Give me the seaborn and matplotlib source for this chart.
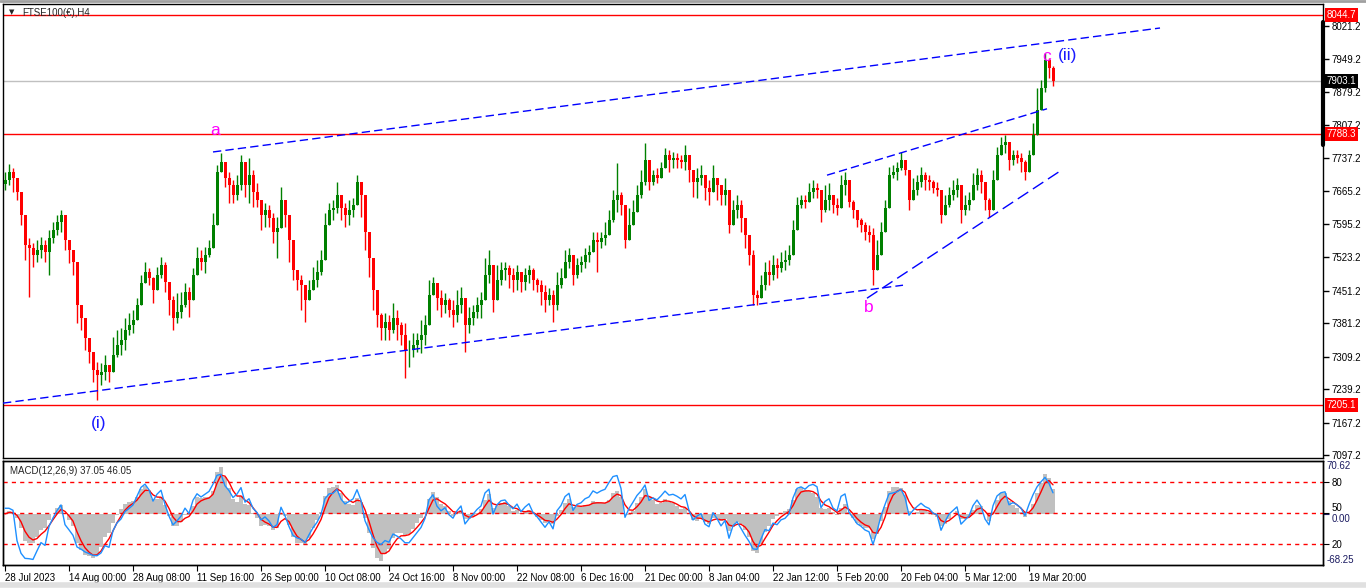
import numpy as np
import pandas as pd
import matplotlib
matplotlib.use("Agg")
import matplotlib.pyplot as plt
import matplotlib.transforms as mtransforms
import seaborn as sns

sns.set_style("white")
plt.rcParams['font.family'] = ['Liberation Sans', 'DejaVu Sans']

# ---------------- data ----------------
symbol_title = "FTSE100(€),H4"
first_open = 7680

close = [
    7690, 7707, 7694, 7664, 7614, 7550, 7543, 7528, 7539, 7550,
    7535, 7565, 7582, 7599, 7614, 7560, 7539, 7513, 7420, 7392,
    7349, 7319, 7280, 7270, 7276, 7291, 7276, 7313, 7334, 7345,
    7367, 7377, 7388, 7420, 7468, 7491, 7479, 7453, 7485, 7507,
    7470, 7431, 7392, 7405, 7420, 7448, 7431, 7485, 7522, 7513,
    7528, 7543, 7593, 7707, 7728, 7694, 7679, 7657, 7679, 7728,
    7679, 7700, 7664, 7647, 7614, 7625, 7608, 7578, 7586, 7647,
    7614, 7560, 7496, 7474, 7463, 7431, 7453, 7474, 7491, 7517,
    7593, 7625, 7629, 7657, 7629, 7614, 7625, 7636, 7685, 7657,
    7578, 7522, 7453, 7399, 7371, 7384, 7367, 7392, 7377, 7356,
    7323, 7323, 7334, 7345, 7356, 7377, 7442, 7468, 7435, 7420,
    7431, 7410, 7399, 7420, 7435, 7377, 7392, 7405, 7420, 7431,
    7485, 7507, 7431, 7474, 7496, 7500, 7485, 7474, 7491, 7470,
    7485, 7496, 7474, 7463, 7448, 7431, 7442, 7420, 7463, 7479,
    7513, 7528, 7485, 7507, 7513, 7528, 7535, 7560, 7556, 7565,
    7571, 7603, 7647, 7657, 7636, 7560, 7593, 7621, 7657, 7685,
    7733, 7685, 7700, 7694, 7715, 7743, 7733, 7737, 7733, 7728,
    7743, 7711, 7685, 7694, 7700, 7672, 7664, 7694, 7679, 7657,
    7668, 7593, 7625, 7636, 7608, 7571, 7528, 7442, 7435, 7463,
    7491, 7485, 7507, 7500, 7513, 7517, 7528, 7582, 7636, 7647,
    7642, 7664, 7672, 7668, 7625, 7647, 7657, 7636, 7629, 7679,
    7690, 7642, 7625, 7603, 7593, 7578, 7571, 7496, 7528, 7578,
    7629, 7700, 7707, 7715, 7733, 7711, 7647, 7668, 7685, 7700,
    7690, 7685, 7672, 7668, 7614, 7636, 7657, 7668, 7679, 7625,
    7636, 7647, 7679, 7700, 7685, 7647, 7625, 7690, 7743, 7765,
    7771, 7733, 7743, 7737, 7728, 7707, 7743, 7787, 7840, 7888,
    7948, 7931, 7903,
]

high = [
    7707, 7724, 7715, 7694, 7657, 7614, 7565, 7554, 7560, 7567,
    7560, 7582, 7599, 7614, 7625, 7586, 7554, 7528, 7507, 7410,
    7371, 7341, 7313, 7298, 7295, 7313, 7291, 7351, 7367, 7371,
    7392, 7403, 7410, 7435, 7485, 7513, 7500, 7481, 7502, 7524,
    7513, 7453, 7440, 7446, 7448, 7468, 7459, 7500, 7545, 7539,
    7545, 7560, 7619, 7722, 7748, 7726, 7707, 7690, 7700, 7743,
    7711, 7737, 7711, 7683, 7647, 7640, 7636, 7619, 7610, 7675,
    7636, 7588, 7522, 7496, 7485, 7453, 7474, 7502, 7517, 7539,
    7619, 7640, 7647, 7685, 7653, 7640, 7647, 7651, 7700, 7683,
    7603, 7545, 7489, 7431, 7403, 7403, 7399, 7425, 7410, 7384,
    7382, 7345, 7360, 7360, 7388, 7399, 7474, 7481, 7463, 7453,
    7446, 7435, 7431, 7453, 7459, 7431, 7416, 7420, 7438, 7448,
    7522, 7539, 7491, 7507, 7513, 7513, 7507, 7500, 7507, 7491,
    7500, 7507, 7500, 7479, 7474, 7463, 7457, 7453, 7491, 7500,
    7539, 7543, 7513, 7522, 7526, 7543, 7550, 7578, 7578, 7578,
    7599, 7625, 7668, 7726, 7664, 7614, 7629, 7647, 7679, 7711,
    7769, 7711, 7711, 7715, 7728, 7759, 7754, 7750, 7748, 7743,
    7765, 7733, 7707, 7715, 7722, 7690, 7690, 7722, 7694, 7679,
    7694, 7647, 7647, 7657, 7647, 7599, 7560, 7539, 7453, 7485,
    7513, 7517, 7528, 7522, 7535, 7539, 7550, 7603, 7653, 7657,
    7657, 7683, 7690, 7683, 7662, 7679, 7683, 7651, 7651, 7700,
    7707, 7657, 7647, 7621, 7608, 7599, 7593, 7586, 7560, 7599,
    7647, 7718, 7722, 7728, 7750, 7728, 7679, 7694, 7700, 7718,
    7707, 7700, 7690, 7685, 7647, 7657, 7675, 7690, 7694, 7657,
    7657, 7664, 7705, 7715, 7711, 7675, 7651, 7711, 7761, 7782,
    7787, 7754, 7754, 7754, 7748, 7733, 7754, 7812, 7888, 7905,
    7963, 7952, 7935,
]

low = [
    7668, 7679, 7664, 7647, 7593, 7517, 7438, 7502, 7513, 7522,
    7513, 7485, 7554, 7571, 7578, 7539, 7511, 7485, 7382, 7367,
    7323, 7295, 7255, 7216, 7248, 7259, 7255, 7291, 7308, 7313,
    7323, 7356, 7360, 7392, 7448, 7468, 7463, 7425, 7463, 7479,
    7448, 7399, 7367, 7382, 7392, 7416, 7395, 7463, 7489, 7496,
    7489, 7524, 7556, 7679, 7707, 7675, 7640, 7640, 7647, 7668,
    7653, 7640, 7631, 7631, 7582, 7588, 7588, 7554, 7522, 7625,
    7588, 7513, 7474, 7453, 7410, 7384, 7431, 7453, 7459, 7485,
    7539, 7599, 7603, 7619, 7603, 7588, 7593, 7610, 7636, 7610,
    7539, 7481, 7410, 7373, 7345, 7345, 7345, 7360, 7345, 7334,
    7263, 7287, 7308, 7319, 7317, 7334, 7388, 7446, 7410, 7395,
    7403, 7395, 7373, 7384, 7403, 7319, 7360, 7377, 7392, 7392,
    7453, 7468, 7405, 7448, 7463, 7474, 7457, 7448, 7453, 7448,
    7453, 7468, 7453, 7448, 7420, 7405, 7420, 7384, 7410, 7457,
    7485, 7500, 7463, 7479, 7491, 7500, 7513, 7543, 7491, 7543,
    7550, 7578, 7599, 7621, 7614, 7543, 7571, 7599, 7625, 7651,
    7679, 7668, 7679, 7683, 7700, 7722, 7707, 7715, 7715, 7715,
    7711, 7685, 7653, 7651, 7679, 7647, 7636, 7672, 7647, 7636,
    7636, 7575, 7599, 7608, 7578, 7543, 7507, 7420, 7420, 7438,
    7453, 7463, 7474, 7479, 7491, 7496, 7507, 7550, 7582, 7629,
    7629, 7647, 7651, 7651, 7599, 7621, 7625, 7619, 7614, 7647,
    7657, 7631, 7608, 7588, 7578, 7560, 7556, 7463, 7507, 7556,
    7593, 7664, 7694, 7690, 7711, 7700, 7625, 7647, 7657, 7675,
    7668, 7668, 7662, 7655, 7597, 7614, 7631, 7647, 7653, 7597,
    7614, 7625, 7647, 7668, 7662, 7625, 7610, 7662, 7718, 7743,
    7748, 7711, 7722, 7726, 7707, 7690, 7722, 7754, 7797, 7873,
    7879, 7909, 7892,
]

time_labels = ["28 Jul 2023", "14 Aug 00:00", "28 Aug 08:00", "11 Sep 16:00",
               "26 Sep 00:00", "10 Oct 08:00", "24 Oct 16:00", "8 Nov 00:00",
               "22 Nov 08:00", "6 Dec 16:00", "21 Dec 00:00", "8 Jan 04:00",
               "22 Jan 12:00", "5 Feb 20:00", "20 Feb 04:00", "5 Mar 12:00",
               "19 Mar 20:00"]
time_label_bars = [0, 16, 32, 48, 64, 80, 96, 112, 128, 144, 160, 176, 192,
                   208, 224, 240, 256]

price_ticks = [8021.2, 7949.2, 7879.2, 7807.2, 7737.2, 7665.2, 7595.2,
               7523.2, 7451.2, 7381.2, 7309.2, 7239.2, 7167.2, 7097.2]
red_levels = [8044.7, 7788.3, 7205.1]
bid_price = 7903.1

# trend lines: (bar, price) endpoints
upper_channel = ([52, 288.75], [7750, 8017])
lower_channel = ([-0.5, 224.5], [7209, 7463])
inner_upper = ([205.5, 260.5], [7700, 7843])
inner_lower = ([215.5, 264.5], [7435, 7713])

wave_labels = [("a", 52.5, 7797, "#FF00FF"), ("b", 216.0, 7416, "#FF00FF"),
               ("c", 260.4, 7955, "#FF00FF"), ("(ii)", 265.6, 7957, "#1a1aff"),
               ("(i)", 23.3, 7166, "#1a1aff")]

macd_params = (12, 26, 9)
macd_shown = (37.05, 46.05)
macd_range = (-68.25, 70.62)
osc_levels = [20, 50, 80]
osc_period = 28
bars_per_step = 4  # each drawn candle stands for ~4 H4 bars of the original

# ---------------- derived series ----------------
c = np.array(close, float)
h = np.array(high, float)
l = np.array(low, float)
o = np.concatenate([[first_open], c[:-1]])
h = np.maximum(h, np.maximum(o, c))
l = np.minimum(l, np.minimum(o, c))
x = np.arange(len(c))

s = pd.Series(c)
k = bars_per_step
def span_equiv(n):
    a = 1 - (1 - 2.0 / (n + 1)) ** k
    return 2.0 / a - 1
ema_f = s.ewm(span=span_equiv(macd_params[0]), adjust=False).mean()
ema_s = s.ewm(span=span_equiv(macd_params[1]), adjust=False).mean()
macd = ema_f - ema_s
signal = macd.ewm(span=1 + (macd_params[2] - 1) / k, adjust=False).mean()
d = s.diff().fillna(0)
alpha = 1 - (1 - 1.0 / osc_period) ** k
g = d.clip(lower=0).ewm(alpha=alpha, adjust=False).mean()
ls_ = (-d.clip(upper=0)).ewm(alpha=alpha, adjust=False).mean()
rsi = (100 - 100 / (1 + g / ls_.replace(0, np.nan))).fillna(55)

# ---------------- figure ----------------
W, H = 1366, 588
fig = plt.figure(figsize=(W / 100, H / 100), dpi=100)
fig.patch.set_facecolor("white")
L, R = 3, 1323
ax = fig.add_axes([L / W, 1 - 458 / H, (R - L) / W, 454 / H])
ax2 = fig.add_axes([L / W, 1 - 565 / H, (R - L) / W, 104 / H])
xlim = (-0.5, 329.5)

GREEN, RED = "#008000", "#FF0000"
cols = np.where(c >= o, GREEN, RED)

# horizontal levels
for lv in red_levels:
    ax.axhline(lv, color=RED, lw=1, zorder=1)
ax.axhline(bid_price, color="#C0C0C0", lw=1, zorder=1)

# candles
ax.vlines(x, l, h, colors=cols, lw=1, zorder=3)
body_h = np.maximum(np.abs(c - o), 1.0)
ax.bar(x, body_h, bottom=np.minimum(o, c), width=0.75, color=cols,
       linewidth=0, zorder=3)

# trend lines
for (xs, ys), dash in [(upper_channel, (6, 3)), (lower_channel, (6, 3)),
                       (inner_upper, (6, 3)), (inner_lower, (9, 4))]:
    sns.lineplot(x=xs, y=ys, ax=ax, color="#0000FF", lw=1, zorder=4,
                 dashes=False, linestyle=(0, dash))

for txt, bx, py, col in wave_labels:
    ax.text(bx, py, txt, color=col, fontsize=12.5, ha="center", va="center",
            zorder=6)

ax.set_xlim(*xlim)
ax.set_ylim(7090.8, 8068.7)
ax.yaxis.tick_right()
ax.set_yticks(price_ticks)
ax.set_yticklabels([f"{v:.1f}" for v in price_ticks])
ax.tick_params(axis="y", direction="out", length=4, width=1, pad=2,
               labelsize=7, colors="black", right=True, left=False)
ax.set_xticks([])
for sp in ax.spines.values():
    sp.set_color("black"); sp.set_linewidth(1)
ax.grid(False)

tr = mtransforms.blended_transform_factory(ax.transAxes, ax.transData)
for lv in red_levels:
    ax.annotate(f"{lv:.1f}", xy=(1, lv), xycoords=tr, xytext=(2.5, 0),
                textcoords="offset points", ha="left", va="center",
                color="white", fontsize=7, zorder=10, annotation_clip=False,
                bbox=dict(boxstyle="square,pad=0.2", fc=RED, ec="none"))
ax.annotate(f"{bid_price:.1f}", xy=(1, bid_price), xycoords=tr,
            xytext=(2.5, 0), textcoords="offset points", ha="left",
            va="center", color="white", fontsize=7, zorder=10,
            annotation_clip=False,
            bbox=dict(boxstyle="square,pad=0.2", fc="black", ec="none"))
# thick scale marker on the right spine
ax.plot([1, 1], [0.689, 0.960], transform=ax.transAxes, color="black",
        lw=3, clip_on=False, zorder=9)
ax.text(0.0065, 0.981, "▼", transform=ax.transAxes, fontsize=5,
        va="center", ha="center", family=["DejaVu Sans"])
ax.text(0.0145, 0.981, symbol_title, transform=ax.transAxes, fontsize=7,
        va="center", ha="left")

# ---------------- MACD panel ----------------
ax2.bar(x, macd.values, width=1.0, color="#C0C0C0", linewidth=0, zorder=2)
sns.lineplot(x=x, y=signal.values, ax=ax2, color=RED, lw=1, zorder=4)
ax2.set_xlim(*xlim)
ax2.set_ylim(*macd_range)
ax3 = ax2.twinx()
ax3.set_ylim(0, 100.8)
for lv in osc_levels:
    ax3.axhline(lv, color=RED, lw=1, ls=(0, (3, 3)), zorder=1)
sns.lineplot(x=x, y=rsi.values, ax=ax3, color="#1E90FF", lw=1, zorder=3)
ax3.set_yticks(osc_levels)
ax3.set_yticklabels([str(v) for v in osc_levels])
ax3.tick_params(axis="y", direction="out", length=4, pad=2, labelsize=7,
                colors="black")
for lab in ax3.get_yticklabels():
    if lab.get_text() == "50":
        lab.set_va("bottom")
ax3.set_ylabel("")
ax2.yaxis.tick_right()
ax2.set_yticks([0])
ax2.set_yticklabels(["0.00"])
ax2.tick_params(axis="y", direction="out", length=4, pad=2, labelsize=7,
                colors="#1a1a60")
for lab in ax2.get_yticklabels():
    lab.set_va("top")
tr2 = mtransforms.blended_transform_factory(ax2.transAxes, ax2.transData)
ax2.text(1.003, macd_range[1], f"{macd_range[1]:.2f}", transform=tr2,
         fontsize=7, va="top", ha="left", color="#1a1a60")
ax2.text(1.003, macd_range[0], f"{macd_range[0]:.2f}", transform=tr2,
         fontsize=7, va="bottom", ha="left", color="#1a1a60")
ax2.set_ylabel("")
ax2.set_xticks(time_label_bars)
ax2.set_xticklabels(time_labels, ha="left")
ax2.tick_params(axis="x", direction="out", length=4, pad=2, labelsize=7,
                colors="black", bottom=True)
ax2.set_xlim(*xlim)
for a_ in (ax2, ax3):
    for sp in a_.spines.values():
        sp.set_color("black"); sp.set_linewidth(1)
    a_.grid(False)
ax2.text(0.005, 0.90,
         f"MACD({macd_params[0]},{macd_params[1]},{macd_params[2]}) "
         f"{macd_shown[0]:.2f} {macd_shown[1]:.2f}",
         transform=ax2.transAxes, fontsize=7, va="center", ha="left",
         zorder=8)

# window borders
fig.add_artist(plt.Line2D([0, 1], [1 - 1 / H, 1 - 1 / H], color="#A0A0A0",
                          lw=2, transform=fig.transFigure))
fig.add_artist(plt.Line2D([0, 1], [3 / H, 3 / H], color="#E0E0E0",
                          lw=4, transform=fig.transFigure))

fig.savefig("out.png", dpi=100, facecolor="white")
